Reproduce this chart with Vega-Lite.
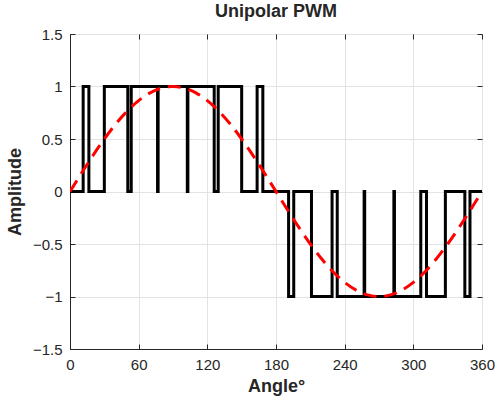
{
  "$schema": "https://vega.github.io/schema/vega-lite/v6.json",
  "width": 412,
  "height": 315,
  "autosize": "none",
  "padding": {"left": 70, "top": 34, "right": 13, "bottom": 59},
  "background": "white",
  "title": {"text": "Unipolar PWM", "font": "Liberation Sans", "fontSize": 18, "fontWeight": "bold", "color": "#262626", "offset": 6},
  "config": {
    "view": {"stroke": "#262626", "strokeWidth": 1},
    "axis": {"labelFont": "Liberation Sans", "labelFontSize": 15, "labelColor": "#262626", "titleFont": "Liberation Sans", "titleFontSize": 18, "titleFontWeight": "bold", "titleColor": "#262626", "gridColor": "#e3e3e3", "gridWidth": 1, "domainColor": "#262626", "tickColor": "#262626", "tickSize": -5, "tickWidth": 1}
  },
  "datasets": {
    "pwm": [
      {"i": 0, "angle": 0, "amp": 0}, {"i": 1, "angle": 11.5, "amp": 0}, {"i": 2, "angle": 11.5, "amp": 1}, {"i": 3, "angle": 16.5, "amp": 1}, {"i": 4, "angle": 16.5, "amp": 0},
      {"i": 5, "angle": 30, "amp": 0}, {"i": 6, "angle": 30, "amp": 1}, {"i": 7, "angle": 50.5, "amp": 1}, {"i": 8, "angle": 50.5, "amp": 0},
      {"i": 9, "angle": 53.5, "amp": 0}, {"i": 10, "angle": 53.5, "amp": 1}, {"i": 11, "angle": 76.5, "amp": 1}, {"i": 12, "angle": 76.5, "amp": 0},
      {"i": 13, "angle": 77, "amp": 0}, {"i": 14, "angle": 77, "amp": 1}, {"i": 15, "angle": 102.5, "amp": 1}, {"i": 16, "angle": 102.5, "amp": 0},
      {"i": 17, "angle": 103, "amp": 0}, {"i": 18, "angle": 103, "amp": 1}, {"i": 19, "angle": 126, "amp": 1}, {"i": 20, "angle": 126, "amp": 0},
      {"i": 21, "angle": 129.5, "amp": 0}, {"i": 22, "angle": 129.5, "amp": 1}, {"i": 23, "angle": 150, "amp": 1}, {"i": 24, "angle": 150, "amp": 0},
      {"i": 25, "angle": 163.5, "amp": 0}, {"i": 26, "angle": 163.5, "amp": 1}, {"i": 27, "angle": 168.5, "amp": 1}, {"i": 28, "angle": 168.5, "amp": 0},
      {"i": 29, "angle": 191, "amp": 0}, {"i": 30, "angle": 191, "amp": -1}, {"i": 31, "angle": 195.5, "amp": -1}, {"i": 32, "angle": 195.5, "amp": 0},
      {"i": 33, "angle": 211, "amp": 0}, {"i": 34, "angle": 211, "amp": -1}, {"i": 35, "angle": 229, "amp": -1}, {"i": 36, "angle": 229, "amp": 0},
      {"i": 37, "angle": 233.5, "amp": 0}, {"i": 38, "angle": 233.5, "amp": -1}, {"i": 39, "angle": 257, "amp": -1}, {"i": 40, "angle": 257, "amp": 0},
      {"i": 41, "angle": 257.5, "amp": 0}, {"i": 42, "angle": 257.5, "amp": -1}, {"i": 43, "angle": 283, "amp": -1}, {"i": 44, "angle": 283, "amp": 0},
      {"i": 45, "angle": 283.5, "amp": 0}, {"i": 46, "angle": 283.5, "amp": -1}, {"i": 47, "angle": 306.5, "amp": -1}, {"i": 48, "angle": 306.5, "amp": 0},
      {"i": 49, "angle": 311.5, "amp": 0}, {"i": 50, "angle": 311.5, "amp": -1}, {"i": 51, "angle": 328, "amp": -1}, {"i": 52, "angle": 328, "amp": 0},
      {"i": 53, "angle": 345, "amp": 0}, {"i": 54, "angle": 345, "amp": -1}, {"i": 55, "angle": 349.5, "amp": -1}, {"i": 56, "angle": 349.5, "amp": 0},
      {"i": 57, "angle": 360, "amp": 0}
    ],
    "sine": [
      {"angle": 0, "amp": 0}, {"angle": 10, "amp": 0.1736}, {"angle": 20, "amp": 0.342}, {"angle": 30, "amp": 0.5}, {"angle": 40, "amp": 0.6428}, {"angle": 50, "amp": 0.766}, {"angle": 60, "amp": 0.866}, {"angle": 70, "amp": 0.9397}, {"angle": 80, "amp": 0.9848}, {"angle": 90, "amp": 1},
      {"angle": 100, "amp": 0.9848}, {"angle": 110, "amp": 0.9397}, {"angle": 120, "amp": 0.866}, {"angle": 130, "amp": 0.766}, {"angle": 140, "amp": 0.6428}, {"angle": 150, "amp": 0.5}, {"angle": 160, "amp": 0.342}, {"angle": 170, "amp": 0.1736}, {"angle": 180, "amp": 0},
      {"angle": 190, "amp": -0.1736}, {"angle": 200, "amp": -0.342}, {"angle": 210, "amp": -0.5}, {"angle": 220, "amp": -0.6428}, {"angle": 230, "amp": -0.766}, {"angle": 240, "amp": -0.866}, {"angle": 250, "amp": -0.9397}, {"angle": 260, "amp": -0.9848}, {"angle": 270, "amp": -1},
      {"angle": 280, "amp": -0.9848}, {"angle": 290, "amp": -0.9397}, {"angle": 300, "amp": -0.866}, {"angle": 310, "amp": -0.766}, {"angle": 320, "amp": -0.6428}, {"angle": 330, "amp": -0.5}, {"angle": 340, "amp": -0.342}, {"angle": 350, "amp": -0.1736}, {"angle": 360, "amp": 0}
    ]
  },
  "layer": [
    {
      "data": {"name": "pwm"},
      "mark": {"type": "line", "color": "black", "strokeWidth": 3, "strokeJoin": "miter", "clip": true},
      "encoding": {
        "x": {"field": "angle", "type": "quantitative", "scale": {"domain": [0, 360], "nice": false}, "title": "Angle°", "axis": {"values": [0, 60, 120, 180, 240, 300, 360], "grid": true, "labelPadding": 13, "titlePadding": 5, "labelFlush": false}},
        "y": {"field": "amp", "type": "quantitative", "scale": {"domain": [-1.5, 1.5], "nice": false}, "title": "Amplitude", "axis": {"values": [-1.5, -1, -0.5, 0, 0.5, 1, 1.5], "format": "~g", "grid": true, "labelPadding": 13, "titlePadding": 8, "labelFlush": false}},
        "order": {"field": "i", "type": "quantitative"}
      }
    },
    {
      "data": {"name": "sine"},
      "mark": {"type": "line", "color": "#ff0000", "strokeWidth": 3, "strokeDash": [13, 8], "interpolate": "monotone", "clip": true},
      "encoding": {
        "x": {"field": "angle", "type": "quantitative", "axis": {"orient": "top", "values": [0, 60, 120, 180, 240, 300, 360], "labels": false, "grid": false, "domain": false, "title": null}},
        "y": {"field": "amp", "type": "quantitative", "axis": {"orient": "right", "values": [-1.5, -1, -0.5, 0, 0.5, 1, 1.5], "labels": false, "grid": false, "domain": false, "title": null}}
      }
    }
  ],
  "resolve": {"axis": {"x": "independent", "y": "independent"}}
}
